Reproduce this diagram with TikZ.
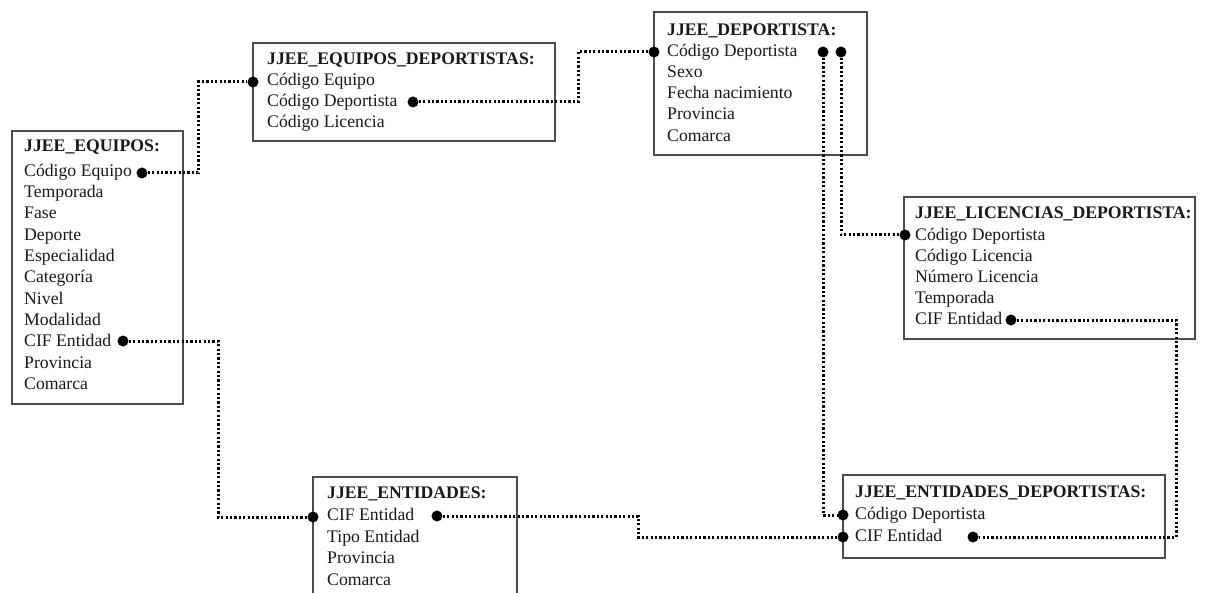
\documentclass[tikz,border=0pt]{standalone}
\usepackage{fontspec}
\setmainfont{Liberation Serif}
\usetikzlibrary{positioning, calc}

\begin{document}
\begin{tikzpicture}[x=1pt, y=-1pt]

      \tikzset{
        tablebox/.style={
            shape=rectangle,
            draw=black!70,
            line width=1.4pt,
            inner sep=0pt
          },
        fieldtext/.style={
            anchor=west,
            inner sep=0pt,
            text height=12.5pt,
            text depth=3.8pt,
            text=black!90,
            font=\fontsize{17.7}{21}\selectfont
          },
        titletext/.style={fieldtext, font=\fontsize{17.7}{21}\selectfont\bfseries},
        link/.style={line width=3pt, dash pattern=on 2.2pt off 2.2pt},
        joint/.style={circle, fill=black, inner sep=0pt, minimum size=11pt}
      }

      \clip (0,0) rectangle (1206,593);
      \fill[white] (0,0) rectangle (1206,593);

      % tables
      \node[tablebox, minimum width=171pt, minimum height=273pt] (equipos) at (97.5,267.5) {};
      \node[tablebox, minimum width=302pt, minimum height=98pt] (eqdep) at (404,92) {};
      \node[tablebox, minimum width=213pt, minimum height=143pt] (deportista) at (760.5,83.5) {};
      \node[tablebox, minimum width=291pt, minimum height=142pt] (licencias) at (1049.5,268) {};
      \node[tablebox, minimum width=204pt, minimum height=143pt] (entidades) at (415,548.5) {};
      \node[tablebox, minimum width=322pt, minimum height=83pt] (entdep) at (1004,516.5) {};

      % fields
      \node[titletext] (eqTitle) at (24,147) {JJEE\_EQUIPOS:};
      \foreach \f [count=\i] in {Código Equipo, Temporada, Fase, Deporte, Especialidad,
          Categoría, Nivel, Modalidad, CIF Entidad, Provincia, Comarca}
        \node[fieldtext] (eq\i) at (24,{172+(\i-1)*21.3}) {\f};

      \node[titletext] (edTitle) at (267,60) {JJEE\_EQUIPOS\_DEPORTISTAS:};
      \foreach \f [count=\i] in {Código Equipo, Código Deportista, Código Licencia}
        \node[fieldtext] (ed\i) at (267,{81.5+(\i-1)*20.8}) {\f};

      \node[titletext] (dpTitle) at (667,31) {JJEE\_DEPORTISTA:};
      \foreach \f [count=\i] in {Código Deportista, Sexo, Fecha nacimiento, Provincia, Comarca}
        \node[fieldtext] (dp\i) at (667,{52+(\i-1)*21.2}) {\f};

      \node[titletext] (lcTitle) at (915,214) {JJEE\_LICENCIAS\_DEPORTISTA:};
      \foreach \f [count=\i] in {Código Deportista, Código Licencia, Número Licencia, Temporada, CIF Entidad}
        \node[fieldtext] (lc\i) at (915,{236+(\i-1)*21}) {\f};

      \node[titletext] (enTitle) at (327,494) {JJEE\_ENTIDADES:};
      \foreach \f [count=\i] in {CIF Entidad, Tipo Entidad, Provincia, Comarca}
        \node[fieldtext] (en\i) at (327,{516+(\i-1)*21.7}) {\f};

      \node[titletext] (etTitle) at (855,493) {JJEE\_ENTIDADES\_DEPORTISTAS:};
      \foreach \f [count=\i] in {Código Deportista, CIF Entidad}
        \node[fieldtext] (et\i) at (855,{515+(\i-1)*22}) {\f};

      % joints
      \node[joint] (eqCod) at (142,173) {};
      \node[joint] (eqCif) at (123,341) {};
      \node[joint] (edEq) at (253,82) {};
      \node[joint] (edDep) at (413,102) {};
      \node[joint] (dpIn) at (654,52) {};
      \node[joint] (dpA) at (823,52) {};
      \node[joint] (dpB) at (841,52) {};
      \node[joint] (lcDep) at (905,235) {};
      \node[joint] (lcCif) at (1011,320) {};
      \node[joint] (enIn) at (313,517) {};
      \node[joint] (enCif) at (437,516) {};
      \node[joint] (etDep) at (843,515) {};
      \node[joint] (etIn) at (843,537) {};
      \node[joint] (etCif) at (973,537) {};

      % relations
      \draw[link] (eqCod) -- ++(56,0) |- (edEq);
      \draw[link] (edDep) -- ++(165,0) |- (dpIn);
      \draw[link] (dpA) |- (etDep);
      \draw[link] (dpB) |- (lcDep);
      \draw[link] (lcCif) -- ++(165,0) |- (etCif);
      \draw[link] (eqCif) -- ++(95,0) |- (enIn);
      \draw[link] (enCif) -- ++(201,0) |- (etIn);
    \end{tikzpicture}
\end{document}
